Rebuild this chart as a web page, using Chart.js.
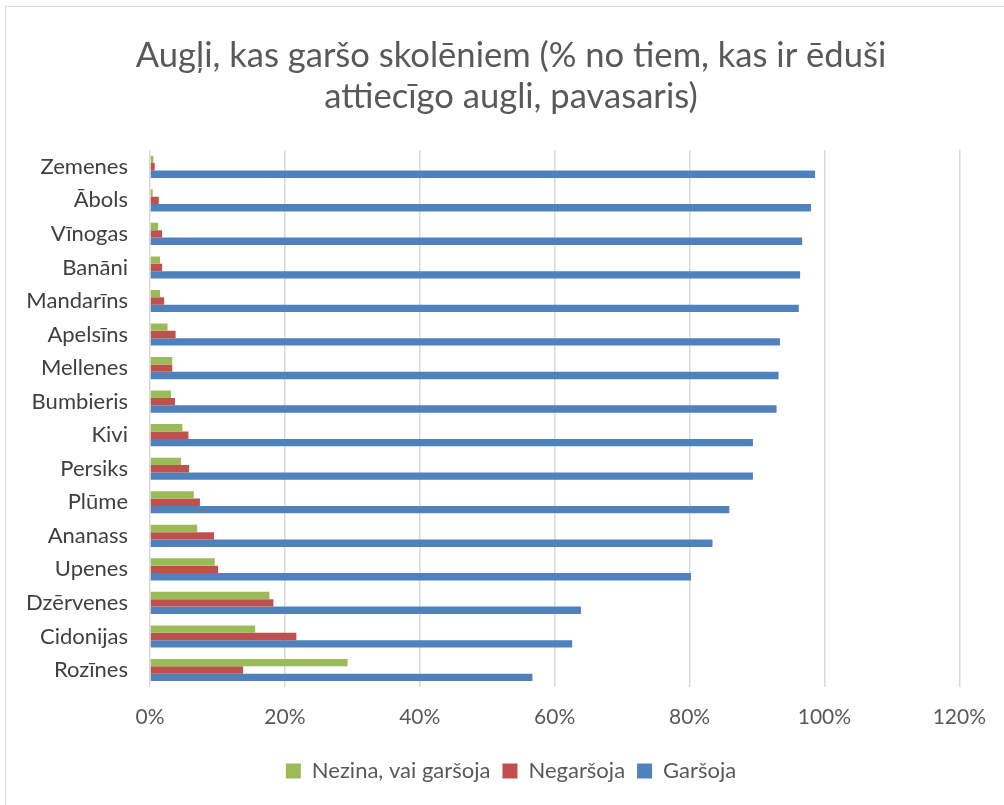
<!DOCTYPE html>
<html>
<head>
<meta charset="utf-8">
<script src="https://cdn.jsdelivr.net/npm/chart.js@4/dist/chart.umd.min.js"></script>
<style>
    html, body { margin: 0; padding: 0; background: #fff; overflow: hidden; }
    .frame { position: absolute; left: 5px; top: 6px; width: 1100px; height: 900px; border: 1px solid #d9d9d9; box-sizing: border-box; }
    .wrap { position: absolute; left: 0; top: 0; width: 1004px; height: 805px; }
</style>
</head>
<body>
<div class="frame"></div>
<div class="wrap"><canvas id="chart" width="1004" height="805"></canvas></div>
<script>
// fruit rows, top to bottom
const categories = ['Zemenes', 'Ābols', 'Vīnogas', 'Banāni', 'Mandarīns', 'Apelsīns', 'Mellenes', 'Bumbieris',
    'Kivi', 'Persiks', 'Plūme', 'Ananass', 'Upenes', 'Dzērvenes', 'Cidonijas', 'Rozīnes'];

const dontKnow = [0.5, 0.4, 1.2, 1.5, 1.5, 2.6, 3.3, 3.1, 4.8, 4.6, 6.5, 7.0, 9.6, 17.7, 15.6, 29.3];
const dislike  = [0.7, 1.3, 1.8, 1.8, 2.1, 3.8, 3.3, 3.7, 5.7, 5.8, 7.4, 9.5, 10.1, 18.3, 21.7, 13.8];
const like     = [98.6, 98.0, 96.7, 96.4, 96.2, 93.4, 93.2, 92.9, 89.4, 89.4, 85.9, 83.4, 80.2, 63.9, 62.6, 56.7];

const seriesNames = ['Nezina, vai garšoja', 'Negaršoja', 'Garšoja'];

const FONT = 'Lato, "Open Sans", sans-serif';
const TEXT = '#595959';

new Chart(document.getElementById('chart'), {
    type: 'bar',
    data: {
        labels: categories,
        datasets: [
            { label: seriesNames[0], data: dontKnow, backgroundColor: '#9bbb59', yAxisID: 'y' },
            { label: seriesNames[1], data: dislike, backgroundColor: '#c0504d', yAxisID: 'y' },
            { label: seriesNames[2], data: like, backgroundColor: '#4f81bd', yAxisID: 'y' }
        ]
    },
    options: {
        indexAxis: 'y',
        responsive: false,
        animation: false,
        devicePixelRatio: 1,
        categoryPercentage: 0.66,
        barPercentage: 1,
        layout: { padding: { left: 18, right: 0, top: 8, bottom: 13 } },
        plugins: {
            tooltip: { enabled: false },
            title: {
                display: true,
                text: ['Augļi, kas garšo skolēniem (% no tiem, kas ir ēduši', 'attiecīgo augli, pavasaris)'],
                color: TEXT,
                font: { family: FONT, size: 34.6, weight: 'normal', lineHeight: 1.2 },
                padding: { top: 27, bottom: 32 }
            },
            legend: {
                position: 'bottom',
                labels: {
                    color: TEXT,
                    font: { family: FONT, size: 22 },
                    boxWidth: 15,
                    boxHeight: 15,
                    padding: 12
                }
            }
        },
        scales: {
            x: {
                min: 0,
                max: 120,
                ticks: {
                    stepSize: 20,
                    color: TEXT,
                    font: { family: FONT, size: 21 },
                    padding: 18,
                    callback: v => v + '%'
                },
                grid: { color: '#d9d9d9', lineWidth: 1.5, drawTicks: false },
                border: { display: false }
            },
            y: {
                afterFit: axis => { axis.width = 132; },
                ticks: {
                    color: '#404040',
                    font: { family: FONT, size: 22 },
                    padding: 22
                },
                grid: { display: false, drawTicks: false },
                border: { display: false }
            },
            // empty spacer on the right so the plot ends at 120%
            yRight: {
                type: 'linear',
                position: 'right',
                afterFit: axis => { axis.width = 44; },
                ticks: { display: false },
                grid: { display: false, drawTicks: false },
                border: { display: false }
            }
        }
    }
});
</script>
</body>
</html>
